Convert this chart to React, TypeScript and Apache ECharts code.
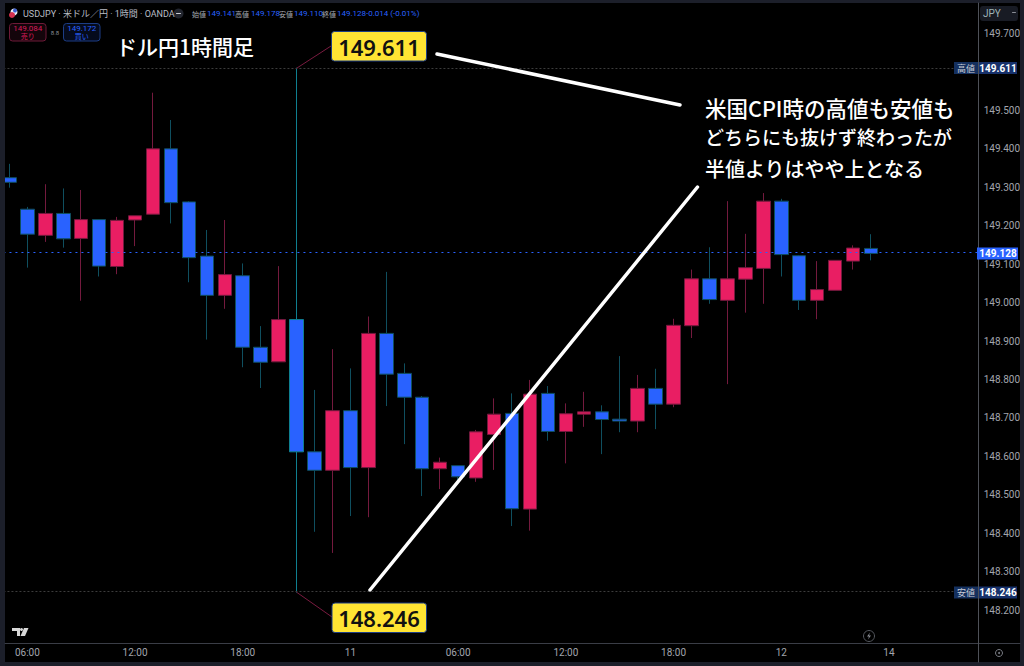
import React, { useEffect, useRef } from "react";
import * as echarts from "echarts";

const W = 1024;
const H = 666;

// Bar labels; only every sixth one is shown on the axis.
const categories = [
  "04:00", "05:00", "06:00", "07:00", "08:00", "09:00", "10:00", "11:00",
  "12:00", "13:00", "14:00", "15:00", "16:00", "17:00", "18:00", "19:00",
  "20:00", "21:00", "22:00", "23:00", "11", "01:00", "02:00", "03:00",
  "04:00", "05:00", "06:00", "07:00", "08:00", "09:00", "10:00", "11:00",
  "12:00", "13:00", "14:00", "15:00", "16:00", "17:00", "18:00", "19:00",
  "20:00", "21:00", "22:00", "23:00", "12", "01:00", "02:00", "03:00",
  "04:00", "05:00", "14", "07:00", "08:00", "09:00", "10:00", "11:00",
];

const opens = [
  "-", 149.325, 149.243, 149.175, 149.232, 149.167, 149.216, 149.094, 149.215, 149.230,
  149.400, 149.262, 149.121, 149.019, 149.070, 148.884, 148.846, 148.956, 148.612, 148.564,
  148.719, 148.571, 148.920, 148.816, 148.754, 148.568, 148.576, 148.544, 148.657, 148.712,
  148.463, 148.764, 148.665, 148.710, 148.716, 148.697, 148.692, 148.777, 148.736, 148.940,
  149.062, 149.006, 149.061, 149.089, 149.264, 149.122, 149.006, 149.032, 149.108, 149.141,
];
const closes = [
  "-", 149.313, 149.178, 149.232, 149.166, 149.216, 149.095, 149.214, 149.226, 149.400,
  149.260, 149.117, 149.019, 149.073, 148.884, 148.845, 148.956, 148.612, 148.564, 148.719,
  148.571, 148.920, 148.814, 148.754, 148.568, 148.585, 148.547, 148.664, 148.710, 148.464,
  148.762, 148.665, 148.711, 148.716, 148.696, 148.692, 148.777, 148.736, 148.941, 149.062,
  149.008, 149.062, 149.091, 149.264, 149.125, 149.006, 149.034, 149.110, 149.142, 149.128,
];
const lows = [
  "-", 149.299, 149.091, 149.158, 149.143, 149.005, 149.068, 149.074, 149.147, 149.230,
  149.206, 149.053, 148.904, 148.984, 148.832, 148.778, 148.846, 148.246, 148.404, 148.349,
  148.445, 148.442, 148.731, 148.632, 148.497, 148.515, 148.539, 148.534, 148.565, 148.419,
  148.407, 148.641, 148.582, 148.677, 148.606, 148.663, 148.663, 148.671, 148.728, 148.908,
  148.997, 148.788, 148.974, 148.997, 149.068, 148.981, 148.957, 149.032, 149.086, 149.110,
];
const highs = [
  "-", 149.361, 149.249, 149.308, 149.297, 149.293, 149.216, 149.223, 149.226, 149.546,
  149.475, 149.264, 149.189, 149.215, 149.102, 148.939, 149.095, 149.611, 148.773, 148.879,
  148.829, 148.964, 149.080, 148.842, 148.757, 148.597, 148.576, 148.669, 148.751, 148.764,
  148.799, 148.783, 148.738, 148.768, 148.733, 148.861, 148.812, 148.828, 148.958, 149.086,
  149.144, 149.264, 149.179, 149.285, 149.270, 149.124, 149.108, 149.110, 149.149, 149.178,
];

// 149.600 is left out: the "149.611" price tag sits on top of it.
const yTicks = [
  149.7, 149.5, 149.4, 149.3, 149.2, 149.1, 149.0,
  148.9, 148.8, 148.7, 148.6, 148.5, 148.4, 148.3, 148.2,
];

const highPrice = 149.611;
const lowPrice = 148.246;
const lastPrice = 149.128;

const headerLabels = ["始値", "高値", "安値", "終値"];
const headerValues = ["149.141", "149.178", "149.110", "149.128"];
const noteLines = ["米国CPI時の高値も安値も", "どちらにも抜けず終わったが", "半値よりはやや上となる"];

const headerLabelX = [192, 235, 279, 322];
const headerValueX = [207, 251, 294, 337];
const noteY = [107, 136, 168];
const noteSize = [21.5, 19, 20];

const SANS = '"Noto Sans CJK JP", "Noto Sans", sans-serif';
const UI = 'Roboto, "Noto Sans CJK JP", sans-serif';
const FRAME = "#1c1f2a";
const TOP = 100;

function label(text: string, x: number, y: number, fill: string, font: string, textAlign = "left") {
  return {
    type: "text",
    z: TOP + 2,
    silent: true,
    style: { text, x, y, fill, font, textAlign, textVerticalAlign: "middle" },
  };
}

function box(x: number, y: number, width: number, height: number, fill: string, stroke?: string, r = 0, z = TOP) {
  return {
    type: "rect",
    z,
    silent: true,
    shape: { x, y, width, height, r },
    style: { fill, stroke, lineWidth: stroke ? 1 : 0 },
  };
}

function segment(x1: number, y1: number, x2: number, y2: number, stroke: string, lineWidth: number, z = TOP) {
  return {
    type: "line",
    z,
    silent: true,
    shape: { x1, y1, x2, y2 },
    style: { stroke, lineWidth, lineCap: "round" },
  };
}

function buildGraphics() {
  const els: any[] = [
    // frame and panels
    box(0, 0, 5, H, FRAME),
    box(0, 0, W, 3, FRAME),
    box(1020, 0, 4, H, FRAME),
    box(0, 662, W, 4, FRAME),
    segment(5, 643.5, 1020, 643.5, "#3a3d46", 1),
    segment(978.5, 3, 978.5, 662, "#4e5158", 1),

    // header
    { type: "circle", z: TOP + 1, silent: true, shape: { cx: 14, cy: 12, r: 3.5 }, style: { fill: "#e8e8f4" } },
    { type: "circle", z: TOP + 1, silent: true, shape: { cx: 12, cy: 15, r: 3 }, style: { fill: "#d5304f" } },
    { type: "circle", z: TOP + 1, silent: true, shape: { cx: 15, cy: 10.5, r: 2 }, style: { fill: "#3b5fd0" } },
    label("USDJPY · 米ドル／円 · 1時間 · OANDA", 23, 13.5, "#b9bcc4", `9px ${UI}`),
    { type: "circle", z: TOP + 1, silent: true, shape: { cx: 178.5, cy: 13.5, r: 5 }, style: { fill: "#22252e" } },
    segment(176.5, 13.5, 180.5, 13.5, "#c8cad0", 1, TOP + 2),
    label("-0.014 (-0.01%)", 366, 13.5, "#2962ff", `8px ${UI}`),

    // sell and buy buttons
    box(9.5, 23.5, 36.5, 17.5, "#14050b", "#6e1a38", 3),
    label("149.084", 27.7, 28.5, "#d81b5a", `8px ${UI}`, "center"),
    label("売り", 27.7, 36, "#d81b5a", `7px ${SANS}`, "center"),
    label("8.8", 55, 32, "#8b8e96", `6px ${UI}`, "center"),
    box(63.5, 23.5, 36.5, 17.5, "#050b1c", "#1c3d85", 3),
    label("149.172", 81.7, 28.5, "#2962ff", `8px ${UI}`, "center"),
    label("買い", 81.7, 36, "#2962ff", `7px ${SANS}`, "center"),

    // title
    label("ドル円1時間足", 116, 45.5, "#ffffff", `500 21px ${SANS}`),

    // callouts
    segment(331, 46, 297, 68, "#7a1b40", 1, TOP - 2),
    segment(297, 592.5, 332, 617, "#7a1b40", 1, TOP - 2),
    box(331.5, 31.5, 95, 29.5, "#ffe433", "#1c3d85", 3),
    label("149.611", 379, 46.5, "#111111", `600 22px "Noto Sans", ${SANS}`, "center"),
    box(332, 603, 94.5, 29.5, "#ffe433", "#1c3d85", 3),
    label("148.246", 379, 618, "#111111", `600 22px "Noto Sans", ${SANS}`, "center"),

    // white arrows
    segment(437, 54, 680, 105, "#ffffff", 3.5, TOP - 1),
    segment(370, 590, 697.5, 187, "#ffffff", 3.5, TOP - 1),

    // right scale
    box(980, 6, 38, 15, "#181b24", undefined, 3),
    label("JPY", 983, 13.5, "#9fb4b8", `10px ${UI}`),
    segment(1012.5, 12.5, 1015.5, 12.5, "#8a8d95", 1, TOP + 2),

    box(954, 62, 24, 12, "#14305f"),
    label("高値", 966, 68, "#c9ccd4", `9px ${SANS}`, "center"),
    box(979, 62, 38, 12, "#17316b"),
    label("149.611", 998, 68, "#ffffff", `bold 10px ${UI}`, "center"),

    box(977, 247.5, 41, 12, "#2962ff"),
    label("149.128", 998, 253.5, "#ffffff", `bold 10px ${UI}`, "center"),

    box(954, 586.5, 24, 12, "#14305f"),
    label("安値", 966, 592.5, "#c9ccd4", `9px ${SANS}`, "center"),
    box(979, 586.5, 38, 12, "#17316b"),
    label("148.246", 998, 592.5, "#ffffff", `bold 10px ${UI}`, "center"),

    // small icons
    { type: "polygon", z: TOP + 1, silent: true, shape: { points: [[12, 628], [20, 628], [20, 636], [17, 636], [17, 631], [12, 631]] }, style: { fill: "#d8d8d8" } },
    { type: "circle", z: TOP + 1, silent: true, shape: { cx: 21.5, cy: 629.5, r: 1.5 }, style: { fill: "#d8d8d8" } },
    { type: "polygon", z: TOP + 1, silent: true, shape: { points: [[24, 628], [28.5, 628], [25, 636], [20.5, 636]] }, style: { fill: "#d8d8d8" } },
    { type: "circle", z: TOP + 1, silent: true, shape: { cx: 869, cy: 636, r: 5.5 }, style: { fill: "none", stroke: "#55585f", lineWidth: 1 } },
    { type: "polygon", z: TOP + 1, silent: true, shape: { points: [[870, 632.5], [867, 636.5], [869, 636.5], [868, 639.5], [871, 635.5], [869, 635.5]] }, style: { fill: "#8a8d95" } },
    { type: "circle", z: TOP + 1, silent: true, shape: { cx: 999, cy: 653, r: 3.5 }, style: { fill: "none", stroke: "#7a7d85", lineWidth: 1 } },
    { type: "circle", z: TOP + 1, silent: true, shape: { cx: 999, cy: 653, r: 1 }, style: { fill: "#7a7d85" } },
  ];

  headerLabels.forEach((t, i) => {
    els.push(label(t, headerLabelX[i], 13.5, "#a9acb4", `7px ${SANS}`));
    els.push(label(headerValues[i], headerValueX[i], 13.5, "#2962ff", `8px ${UI}`));
  });
  noteLines.forEach((t, i) => {
    els.push(label(t, 705, noteY[i], "#ffffff", `500 ${noteSize[i]}px ${SANS}`));
  });
  return els;
}

export default function App() {
  const ref = useRef<HTMLDivElement>(null);

  useEffect(() => {
    document.body.style.margin = "0";
    document.body.style.background = "#000";
    const chart = echarts.init(ref.current!, undefined, { renderer: "svg" });
    const candles = opens.map((o, i) => {
      const value = [o, closes[i], lows[i], highs[i]];
      return highs[i] === highPrice
        ? { value, itemStyle: { borderColor0: "#0f7f90" } }
        : value;
    });
    chart.setOption({
      animation: false,
      backgroundColor: "#000000",
      grid: { left: -8.55, top: 8, width: 987.25, height: 635, containLabel: false, outerBoundsMode: "none" },
      xAxis: {
        type: "category",
        data: categories,
        boundaryGap: false,
        axisLine: { show: false },
        axisTick: { show: false },
        splitLine: { show: false },
        axisLabel: {
          interval: (index: number) => index >= 2 && (index - 2) % 6 === 0,
          color: "#a2a5ad",
          fontFamily: "Roboto",
          fontSize: 10,
          margin: 4,
        },
      },
      yAxis: {
        type: "value",
        position: "right",
        min: 148.1148,
        max: 149.7663,
        axisLine: { show: false },
        axisTick: { show: false },
        splitLine: { show: false },
        axisLabel: {
          customValues: yTicks,
          formatter: (v: number) => v.toFixed(3),
          color: "#a2a5ad",
          fontFamily: "Roboto",
          fontSize: 10,
          margin: 5,
        },
      },
      series: [
        {
          type: "candlestick",
          data: candles,
          barWidth: 14,
          itemStyle: {
            color: "#e91e63",
            color0: "#2962ff",
            borderColor: "#741a3e",
            borderColor0: "#0f4f5f",
            borderWidth: 1,
          },
          markLine: {
            silent: true,
            symbol: "none",
            animation: false,
            label: { show: false },
            data: [
              { yAxis: highPrice, lineStyle: { color: "#3c3c3c", type: [2, 2], width: 1 } },
              { yAxis: lowPrice, lineStyle: { color: "#3c3c3c", type: [2, 2], width: 1 } },
              { yAxis: lastPrice, lineStyle: { color: "#2962ff", type: [2, 4], width: 1 } },
            ],
          },
        },
      ],
      graphic: { elements: buildGraphics() },
    });
    return () => chart.dispose();
  }, []);

  return <div ref={ref} style={{ position: "absolute", left: 0, top: 0, width: W, height: H }} />;
}
